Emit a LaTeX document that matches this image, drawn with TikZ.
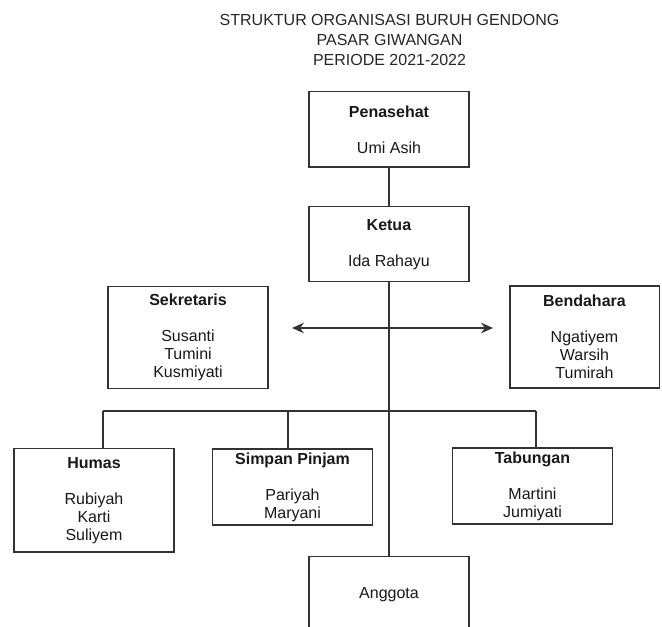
\documentclass[tikz,border=0pt]{standalone}
\usepackage{fontspec}
\setmainfont{Liberation Sans}
\usepackage{tikz}
\usetikzlibrary{arrows.meta, positioning}

\begin{document}
\begin{tikzpicture}[
      x=0.75pt, y=-0.75pt,
      font=\fontsize{12}{13.5}\selectfont,
      box/.style={draw=black!80, line width=1pt, fill=white, text=black!90, minimum width=120pt, minimum height=56.5pt, align=center, inner sep=0pt},
      tall/.style={box, minimum height=76.5pt},
      line/.style={draw=black!80, line width=1pt},
      arr/.style={line, {Stealth[length=9pt, width=8pt, inset=3pt]}-{Stealth[length=9pt, width=8pt, inset=3pt]}}
    ]
    \useasboundingbox (0,0) rectangle (662,627);

    \node[align=center, font=\fontsize{12}{14.8}\selectfont, text=black!85] (title) at (389.5,40)
      {STRUKTUR ORGANISASI BURUH GENDONG\\PASAR GIWANGAN\\PERIODE 2021-2022};

    \node[box] (penasehat) at (389,129.5) {\textbf{Penasehat}\\[13.5pt]Umi Asih};
    \node[box, below=28.5pt of penasehat] (ketua) {\textbf{Ketua}\\[13.5pt]Ida Rahayu};

    \node[tall] (sekretaris) at (188,337.5) {\textbf{Sekretaris}\\[13.5pt]Susanti\\Tumini\\Kusmiyati};
    \node[tall, minimum width=112pt] (bendahara) at (584.5,337) {\textbf{Bendahara}\\[13.5pt]Ngatiyem\\Warsih\\Tumirah};

    \node[tall, minimum height=77.5pt] (humas) at (94,500.5) {\textbf{Humas}\\[13.5pt]Rubiyah\\Karti\\Suliyem};
    \node[box, minimum height=57pt] (simpan) at (292.5,487) {\textbf{Simpan Pinjam}\\[13.5pt]Pariyah\\Maryani};
    \node[box, minimum height=57pt] (tabungan) at (532.5,486) {\textbf{Tabungan}\\[13.5pt]Martini\\Jumiyati};

    \node[box, minimum height=57pt] (anggota) at (389,594.5) {Anggota};

    % garis komando
    \draw[line] (penasehat) -- (ketua);
    \draw[line] (ketua) -- (anggota);

    % koordinasi sekretaris - bendahara
    \coordinate (kiri) at (292,328);
    \coordinate (kanan) at (493,328);
    \draw[arr] (kiri) -- (kanan);

    % seksi-seksi
    \coordinate (bus1) at (103,411);
    \coordinate (bus2) at (288,411);
    \coordinate (bus3) at (536,411);
    \draw[line] (bus1) -- (bus3);
    \draw[line] (bus1) -- (bus1 |- humas.north);
    \draw[line] (bus2) -- (bus2 |- simpan.north);
    \draw[line] (bus3) -- (bus3 |- tabungan.north);
  \end{tikzpicture}
\end{document}
